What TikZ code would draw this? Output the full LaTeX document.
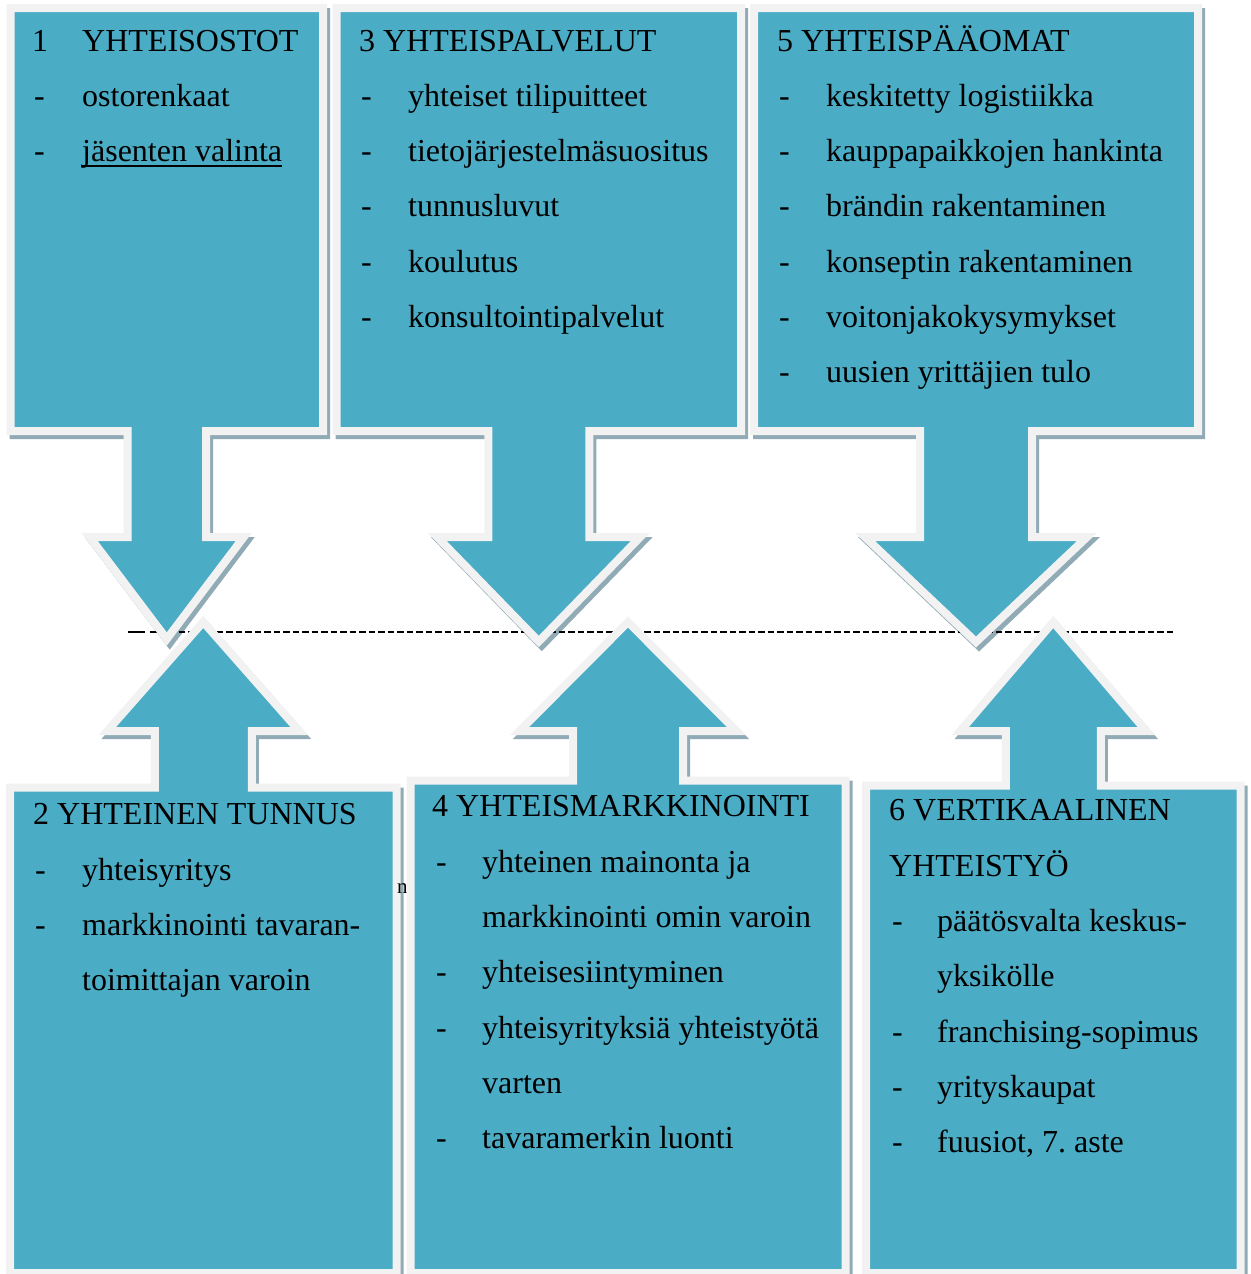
\documentclass[tikz,border=0pt]{standalone}
\usepackage{fontspec}
\setmainfont{Liberation Serif}
\frenchspacing
\definecolor{teal5}{RGB}{75,172,198}
\definecolor{rimgray}{RGB}{242,242,242}
\definecolor{shadowc}{RGB}{144,171,181}
\newcommand\dcall[9]{\path[#1] (#2,#4) -- (#3,#4) -- (#3,#5) -- ({(#2+#3)/2+#6},#5) -- ({(#2+#3)/2+#6},#7) -- ({(#2+#3)/2+#8},#7) -- ({(#2+#3)/2},#9) -- ({(#2+#3)/2-#8},#7) -- ({(#2+#3)/2-#6},#7) -- ({(#2+#3)/2-#6},#5) -- (#2,#5) -- cycle;}
\newcommand\ucall[9]{\path[#1] (#2,#5) -- (#2,#4) -- ({(#2+#3)/2-#6},#4) -- ({(#2+#3)/2-#6},#7) -- ({(#2+#3)/2-#8},#7) -- ({(#2+#3)/2},#9) -- ({(#2+#3)/2+#8},#7) -- ({(#2+#3)/2+#6},#7) -- ({(#2+#3)/2+#6},#4) -- (#3,#4) -- (#3,#5) -- cycle;}
\newcommand\ulinetext[1]{\setbox0\hbox{#1}\rlap{\rule[-6bp]{\wd0}{1.8bp}}\box0}
\tikzset{
  callout/.style={fill=teal5, draw=rimgray, line width=8bp, miter limit=10},
  calloutshadow/.style={fill=shadowc, draw=shadowc, line width=8bp, miter limit=10, xshift=3bp, yshift=-4bp},
  txt/.style={anchor=base west, inner sep=0pt, font=\fontsize{32bp}{38bp}\selectfont},
  dashline/.style={draw=black, line width=2bp},
}
\begin{document}
\begin{tikzpicture}[x=1bp,y=-1bp]
\useasboundingbox (0,0) rectangle (1251,1274);
\begin{scope}
\clip (0,0) rectangle (1251,1274);
% shadows
\dcall{calloutshadow}{10.5}{323}{8}{431}{39.25}{537}{77}{639}
\dcall{calloutshadow}{336.5}{741}{8}{431}{50.5}{537}{101.5}{641.5}
\dcall{calloutshadow}{754}{1198}{8}{431}{56}{537}{111}{642}
\ucall{calloutshadow}{10}{396.5}{787.5}{1273}{48.5}{731}{96}{622}
\ucall{calloutshadow}{410.5}{845.5}{780.5}{1273}{55}{731}{108.5}{622}
\ucall{calloutshadow}{866}{1240.5}{785.5}{1273}{47.5}{731}{93}{622}
% dashed separator
\coordinate (d0) at (128,632);
\coordinate (d1) at (145,632);
\coordinate (d2) at (150,632);
\coordinate (d3) at (1175,632);
\draw[dashline] (d0) -- (d1);
\draw[dashline, dash pattern=on 6.5bp off 3bp] (d2) -- (d3);
% shapes
\dcall{callout}{10.5}{323}{8}{431}{39.25}{537}{77}{639}
\dcall{callout}{336.5}{741}{8}{431}{50.5}{537}{101.5}{641.5}
\dcall{callout}{754}{1198}{8}{431}{56}{537}{111}{642}
\ucall{callout}{10}{396.5}{787.5}{1273}{48.5}{731}{96}{622}
\node[anchor=base west, inner sep=0pt, font=\fontsize{21bp}{24bp}\selectfont] (stray) at (397,893) {n};
\ucall{callout}{410.5}{845.5}{780.5}{1273}{55}{731}{108.5}{622}
\ucall{callout}{866}{1240.5}{785.5}{1273}{47.5}{731}{93}{622}
\end{scope}
% box 1
\node[txt] (b1n) at (32,51) {1};
\node[txt] (b1t) at (82,51) {YHTEISOSTOT};
\node[txt] (b1d1) at (34,106) {-};
\node[txt] (b1l1) at (82,106) {ostorenkaat};
\node[txt] (b1d2) at (34,161) {-};
\node[txt] (b1l2) at (82,161) {\ulinetext{jäsenten valinta}};
% box 3
\node[txt] (b3t) at (359,51) {3 YHTEISPALVELUT};
\node[txt] (b3d1) at (361,106) {-};
\node[txt] (b3l1) at (408,106) {yhteiset tilipuitteet};
\node[txt] (b3d2) at (361,161) {-};
\node[txt] (b3l2) at (408,161) {tietojärjestelmäsuositus};
\node[txt] (b3d3) at (361,216) {-};
\node[txt] (b3l3) at (408,216) {tunnusluvut};
\node[txt] (b3d4) at (361,272) {-};
\node[txt] (b3l4) at (408,272) {koulutus};
\node[txt] (b3d5) at (361,327) {-};
\node[txt] (b3l5) at (408,327) {konsultointipalvelut};
% box 5
\node[txt] (b5t) at (777,51) {5 YHTEISPÄÄOMAT};
\node[txt] (b5d1) at (779,106) {-};
\node[txt] (b5l1) at (826,106) {keskitetty logistiikka};
\node[txt] (b5d2) at (779,161) {-};
\node[txt] (b5l2) at (826,161) {kauppapaikkojen hankinta};
\node[txt] (b5d3) at (779,216) {-};
\node[txt] (b5l3) at (826,216) {brändin rakentaminen};
\node[txt] (b5d4) at (779,272) {-};
\node[txt] (b5l4) at (826,272) {konseptin rakentaminen};
\node[txt] (b5d5) at (779,327) {-};
\node[txt] (b5l5) at (826,327) {voitonjakokysymykset};
\node[txt] (b5d6) at (779,382) {-};
\node[txt] (b5l6) at (826,382) {uusien yrittäjien tulo};
% box 2
\node[txt] (b2t) at (33,824.5) {2 YHTEINEN TUNNUS};
\node[txt] (b2d1) at (35,880) {-};
\node[txt] (b2l1) at (82,880) {yhteisyritys};
\node[txt] (b2d2) at (35,935) {-};
\node[txt] (b2l2) at (82,935) {markkinointi tavaran-};
\node[txt] (b2l3) at (82,990) {toimittajan varoin};
% box 4
\node[txt] (b4t) at (432,816.5) {4 YHTEISMARKKINOINTI};
\node[txt] (b4d1) at (436,872) {-};
\node[txt] (b4l1) at (482,872) {yhteinen mainonta ja};
\node[txt] (b4l2) at (482,927) {markkinointi omin varoin};
\node[txt] (b4d3) at (436,982.5) {-};
\node[txt] (b4l3) at (482,982.5) {yhteisesiintyminen};
\node[txt] (b4d4) at (436,1038) {-};
\node[txt] (b4l4) at (482,1038) {yhteisyrityksiä yhteistyötä};
\node[txt] (b4l5) at (482,1093) {varten};
\node[txt] (b4d6) at (436,1148.5) {-};
\node[txt] (b4l6) at (482,1148.5) {tavaramerkin luonti};
% box 6
\node[txt] (b6t) at (889,820.5) {6 VERTIKAALINEN};
\node[txt] (b6t2) at (889,876) {YHTEISTYÖ};
\node[txt] (b6d1) at (892,931) {-};
\node[txt] (b6l1) at (937,931) {päätösvalta keskus-};
\node[txt] (b6l2) at (937,986.5) {yksikölle};
\node[txt] (b6d3) at (892,1042) {-};
\node[txt] (b6l3) at (937,1042) {franchising-sopimus};
\node[txt] (b6d4) at (892,1097) {-};
\node[txt] (b6l4) at (937,1097) {yrityskaupat};
\node[txt] (b6d5) at (892,1152.5) {-};
\node[txt] (b6l5) at (937,1152.5) {fuusiot, 7. aste};
\end{tikzpicture}
\end{document}
